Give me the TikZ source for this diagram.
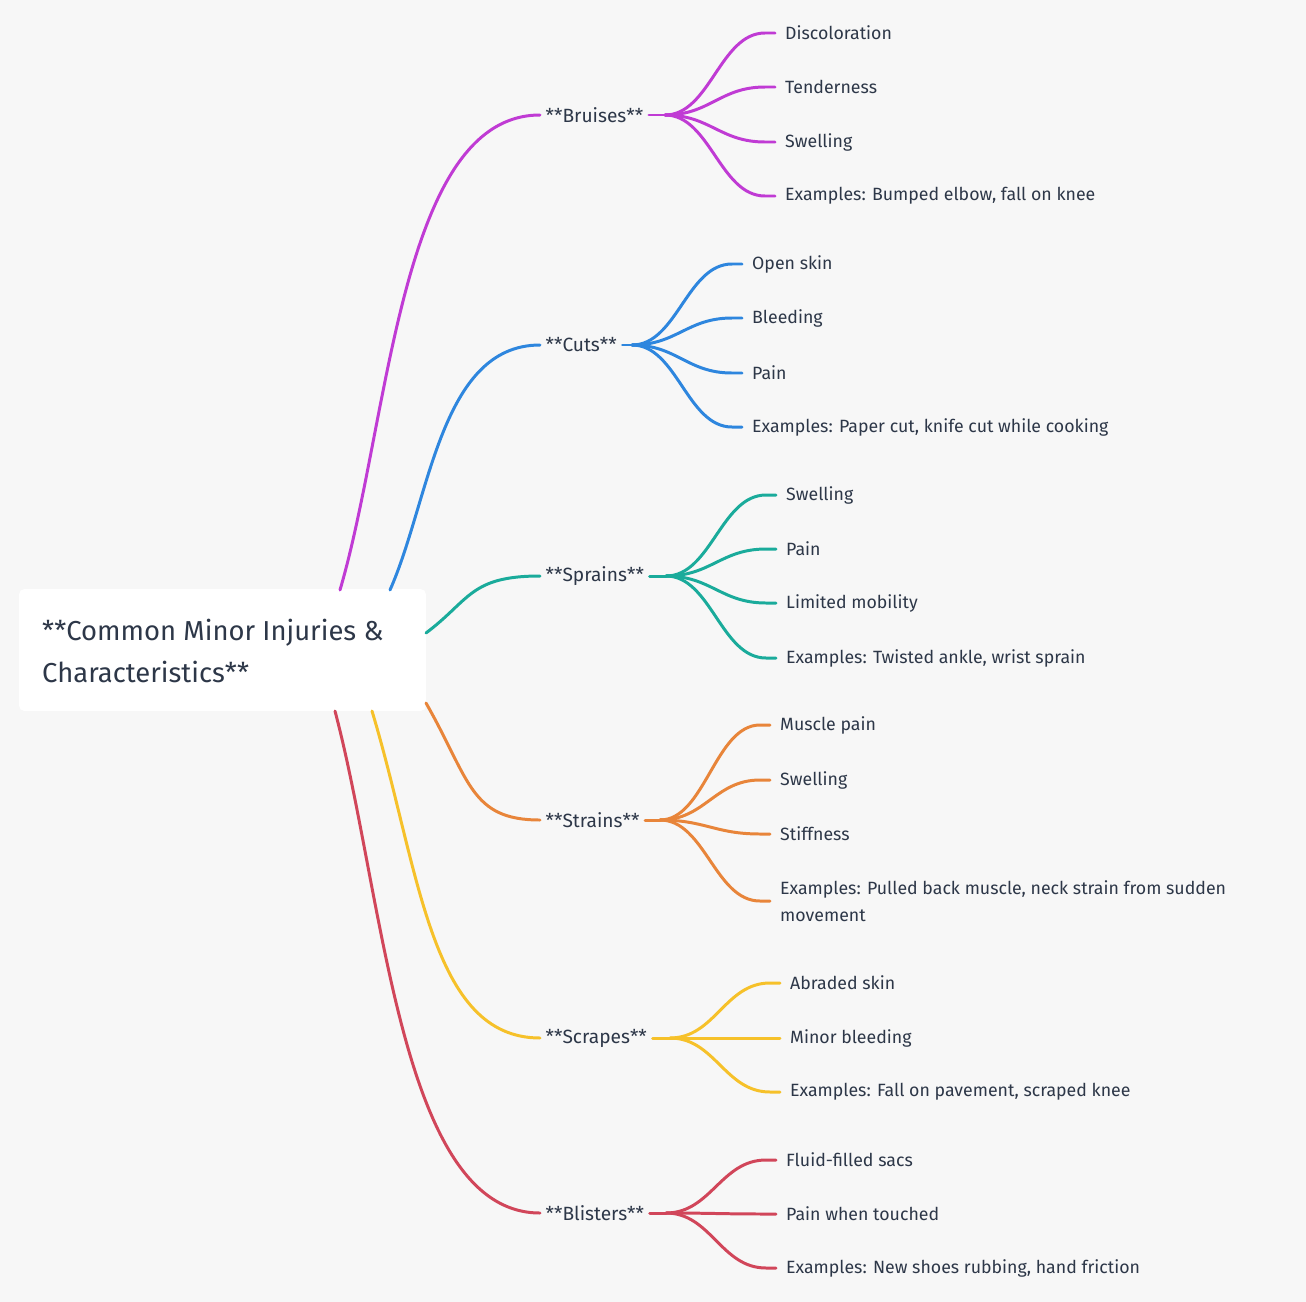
\documentclass[tikz,border=0pt]{standalone}
\usepackage{fontspec}
\setmainfont{Fira Sans}
\usetikzlibrary{calc}
\definecolor{bgcol}{HTML}{F7F7F7}
\definecolor{txtcol}{HTML}{2D3748}
\definecolor{cbruise}{HTML}{C03BD4}
\definecolor{ccut}{HTML}{2E86DE}
\definecolor{csprain}{HTML}{1AAB9B}
\definecolor{cstrain}{HTML}{E8853A}
\definecolor{cscrape}{HTML}{F6C12A}
\definecolor{cblister}{HTML}{D1465A}
\tikzset{
  branch/.style={line width=1.7pt,line cap=round},
  topic/.style={anchor=west,inner xsep=3pt,text=txtcol,font=\fontsize{10.9}{12}\selectfont},
  leaf/.style={anchor=west,inner xsep=5.6pt,text=txtcol,font=\fontsize{10.1}{15.3}\selectfont,align=left},
}
% twig from hub to leaf
\newcommand{\twig}[3]{\draw[branch,#1] (#2) .. controls +(45,0) and +(-45,0) .. ($(#3.west)+(-10,0)$) -- (#3.west);}
\begin{document}
\begin{tikzpicture}[x=0.02cm,y=-0.02cm]
\fill[bgcol] (0,0) rectangle (1306,1302);

%% root
\node[fill=white,rounded corners=3pt,minimum width=8.14cm,minimum height=2.44cm] (root) at (222.5,650) {};
\node[anchor=west,text=txtcol,align=left,font=\fontsize{15.6}{23.5}\selectfont] (rootlabel) at (36,651)
  {**Common Minor Injuries \&\\Characteristics**};

%% branches
\coordinate (r1) at (340,590); \coordinate (r2) at (390,590); \coordinate (r3) at (426,633);
\coordinate (r4) at (426,703); \coordinate (r5) at (372,711); \coordinate (r6) at (335,711);

\node[topic] (bruises) at (540,115) {**Bruises**};
\node[topic] (cuts) at (540,345) {**Cuts**};
\node[topic] (sprains) at (540,576) {**Sprains**};
\node[topic] (strains) at (540,820) {**Strains**};
\node[topic] (scrapes) at (540,1038) {**Scrapes**};
\node[topic] (blisters) at (540,1213) {**Blisters**};

\draw[branch,cbruise] (r1) .. controls (390,420) and (400,115) .. (bruises.west);
\draw[branch,ccut] (r2) .. controls (430,500) and (440,345) .. (cuts.west);
\draw[branch,csprain] (r3) .. controls (470,600) and (470,576) .. (sprains.west);
\draw[branch,cstrain] (r4) .. controls (470,780) and (470,820) .. (strains.west);
\draw[branch,cscrape] (r5) .. controls (420,870) and (430,1038) .. (scrapes.west);
\draw[branch,cblister] (r6) .. controls (385,900) and (400,1213) .. (blisters.west);

%% hubs
\coordinate (bruises-hub) at (665,115);
\coordinate (cuts-hub) at (632,345);
\coordinate (sprains-hub) at (666,576);
\coordinate (strains-hub) at (660,820);
\coordinate (scrapes-hub) at (670,1038);
\coordinate (blisters-hub) at (666,1213);
\draw[branch,cbruise] (bruises.east) -- (bruises-hub);
\draw[branch,ccut] (cuts.east) -- (cuts-hub);
\draw[branch,csprain] (sprains.east) -- (sprains-hub);
\draw[branch,cstrain] (strains.east) -- (strains-hub);
\draw[branch,cscrape] (scrapes.east) -- (scrapes-hub);
\draw[branch,cblister] (blisters.east) -- (blisters-hub);

%% leaves
\foreach \y/\t [count=\i] in {33/Discoloration,87/Tenderness,142/Swelling,196/{Examples: Bumped elbow, fall on knee}}{
  \node[leaf] (bruises-\i) at (775,\y) {\t};
  \twig{cbruise}{bruises-hub}{bruises-\i}
}
\foreach \y/\t [count=\i] in {264/Open skin,318/Bleeding,373/Pain,427/{Examples: Paper cut, knife cut while cooking}}{
  \node[leaf] (cuts-\i) at (742,\y) {\t};
  \twig{ccut}{cuts-hub}{cuts-\i}
}
\foreach \y/\t [count=\i] in {495/Swelling,549/Pain,603/Limited mobility,658/{Examples: Twisted ankle, wrist sprain}}{
  \node[leaf] (sprains-\i) at (776,\y) {\t};
  \twig{csprain}{sprains-hub}{sprains-\i}
}
\foreach \y/\t [count=\i] in {725/Muscle pain,780/Swelling,834/Stiffness,901/{Examples: Pulled back muscle, neck strain from sudden\\movement}}{
  \node[leaf] (strains-\i) at (770,\y) {\t};
  \twig{cstrain}{strains-hub}{strains-\i}
}
\foreach \y/\t [count=\i] in {983/Abraded skin,1038/Minor bleeding,1092/{Examples: Fall on pavement, scraped knee}}{
  \node[leaf] (scrapes-\i) at (780,\y) {\t};
  \twig{cscrape}{scrapes-hub}{scrapes-\i}
}
\foreach \y/\t [count=\i] in {1160/Fluid-filled sacs,1214/Pain when touched,1268/{Examples: New shoes rubbing, hand friction}}{
  \node[leaf] (blisters-\i) at (776,\y) {\t};
  \twig{cblister}{blisters-hub}{blisters-\i}
}
\end{tikzpicture}
\end{document}
